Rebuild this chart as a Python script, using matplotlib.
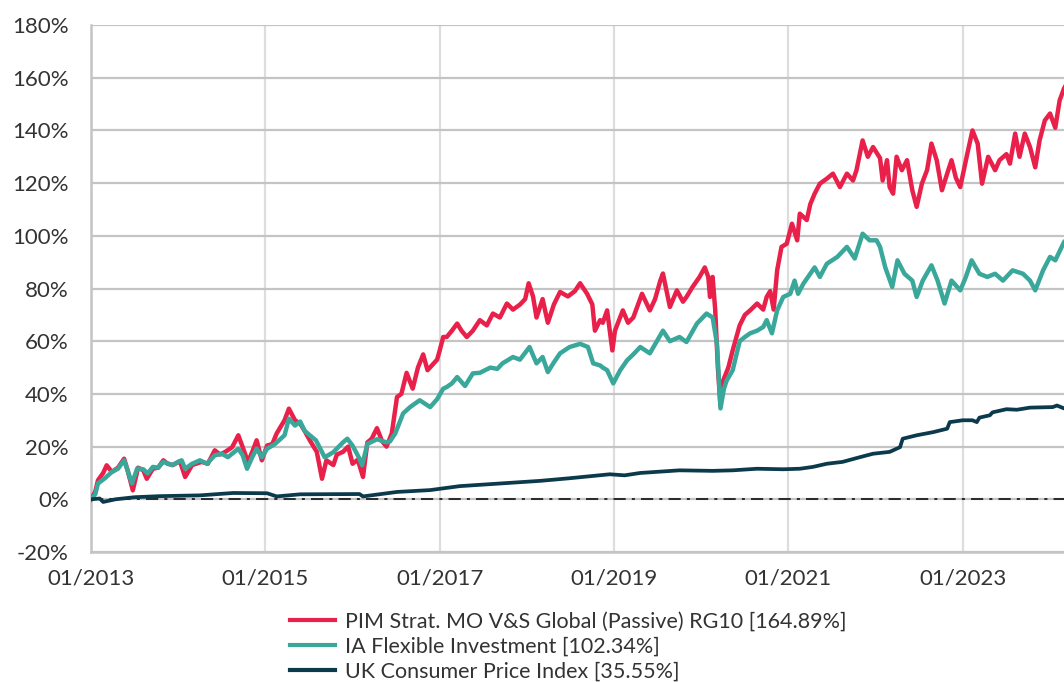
import matplotlib
matplotlib.use("Agg")
import matplotlib.pyplot as plt

# cumulative performance, % (x = decimal year)
pim_t = [2013.00, 2013.05, 2013.08, 2013.14, 2013.18, 2013.24, 2013.31, 2013.38, 2013.42, 2013.48,
         2013.54, 2013.60, 2013.64, 2013.71, 2013.77, 2013.83, 2013.88, 2013.94, 2014.02, 2014.08,
         2014.16, 2014.27, 2014.34, 2014.42, 2014.48, 2014.54, 2014.62, 2014.69, 2014.74, 2014.80,
         2014.85, 2014.90, 2014.96, 2015.02, 2015.08, 2015.13, 2015.22, 2015.27, 2015.34, 2015.40,
         2015.45, 2015.51, 2015.59, 2015.65, 2015.70, 2015.78, 2015.82, 2015.89, 2015.95, 2016.00,
         2016.06, 2016.12, 2016.17, 2016.22, 2016.28, 2016.34, 2016.39, 2016.45, 2016.51, 2016.56,
         2016.62, 2016.69, 2016.75, 2016.81, 2016.86, 2016.97, 2017.00, 2017.04, 2017.08, 2017.14,
         2017.20, 2017.25, 2017.31, 2017.38, 2017.46, 2017.54, 2017.61, 2017.69, 2017.77, 2017.84,
         2017.92, 2017.98, 2018.02, 2018.07, 2018.11, 2018.18, 2018.24, 2018.31, 2018.38, 2018.47,
         2018.55, 2018.61, 2018.69, 2018.75, 2018.78, 2018.84, 2018.87, 2018.92, 2018.98, 2019.01,
         2019.10, 2019.16, 2019.22, 2019.32, 2019.41, 2019.47, 2019.53, 2019.56, 2019.64, 2019.72,
         2019.79, 2019.83, 2019.90, 2019.98, 2020.04, 2020.08, 2020.10, 2020.13, 2020.16, 2020.19,
         2020.22, 2020.25, 2020.31, 2020.36, 2020.44, 2020.50, 2020.56, 2020.64, 2020.71, 2020.75,
         2020.79, 2020.83, 2020.87, 2020.92, 2020.98, 2021.04, 2021.10, 2021.13, 2021.21, 2021.25,
         2021.30, 2021.36, 2021.44, 2021.51, 2021.59, 2021.67, 2021.74, 2021.78, 2021.85, 2021.91,
         2021.97, 2022.05, 2022.08, 2022.13, 2022.16, 2022.20, 2022.24, 2022.30, 2022.36, 2022.42,
         2022.47, 2022.53, 2022.59, 2022.64, 2022.70, 2022.76, 2022.82, 2022.87, 2022.92, 2022.97,
         2023.05, 2023.11, 2023.17, 2023.22, 2023.29, 2023.37, 2023.42, 2023.50, 2023.54, 2023.60,
         2023.65, 2023.71, 2023.77, 2023.83, 2023.88, 2023.94, 2024.00, 2024.06, 2024.11, 2024.16,
         2024.23]
pim = [0, 3, 7.2, 10, 12.9, 10.4, 12, 15.4, 11, 3.4,
       12, 11, 7.8, 11.6, 12, 14.8, 13.5, 13, 14.5, 8.5,
       13, 14.2, 13.5, 18.6, 17, 18, 19.8, 24.3, 19.8, 14.2,
       18, 22.4, 14.8, 20.4, 21, 25, 30, 34.4, 30, 28.7,
       26, 22.4, 18, 7.8, 14.8, 13, 17, 18, 20, 13.5,
       15, 8.5, 21.6, 23, 27, 22, 20, 25, 38.8, 40,
       48, 42, 50, 55, 49, 53, 56.5, 61.6, 61.6, 64,
       66.7, 64, 61.6, 64, 68, 66, 70.5, 69, 74.3, 72,
       73.9, 76, 82, 77, 69, 76, 67, 74, 78.7, 77,
       79, 82, 78, 74, 64, 68, 67, 71.7, 56.5, 64,
       71.7, 67, 69, 78, 71.7, 76, 83, 85.7, 73, 79.3,
       75, 76.8, 80.6, 84.4, 88, 84.4, 76.8, 84.4, 71.7, 50,
       35.5, 45, 50, 56.5, 66, 70, 71.7, 74.3, 72, 76.8,
       79, 72, 86.9, 95.8, 97, 104.6, 98.3, 108.4, 106, 112,
       116, 119.8, 121.7, 123.6, 118.5, 123.6, 121, 124.9, 136.2, 130,
       133.7, 129.5, 121, 128.7, 118.5, 116, 130, 124.9, 128.7, 117.3,
       111, 119.8, 125, 135, 128.7, 117.3, 123.6, 128.7, 122, 118.5,
       131, 140, 135, 119.8, 130, 124.9, 128.7, 131, 127.4, 138.8,
       130, 138.8, 133.7, 126, 136.2, 143.8, 146.4, 141, 151.4, 155.9,
       160]

flex_t = [2013.00, 2013.05, 2013.08, 2013.16, 2013.24, 2013.31, 2013.38, 2013.42, 2013.47, 2013.53,
          2013.60, 2013.65, 2013.71, 2013.77, 2013.83, 2013.93, 2014.04, 2014.08, 2014.16, 2014.25,
          2014.33, 2014.42, 2014.50, 2014.57, 2014.69, 2014.74, 2014.79, 2014.85, 2014.90, 2014.96,
          2015.02, 2015.11, 2015.22, 2015.27, 2015.34, 2015.40, 2015.45, 2015.51, 2015.58, 2015.63,
          2015.68, 2015.72, 2015.78, 2015.89, 2015.94, 2016.00, 2016.08, 2016.11, 2016.17, 2016.28,
          2016.39, 2016.43, 2016.49, 2016.58, 2016.66, 2016.77, 2016.89, 2016.97, 2017.04, 2017.08,
          2017.14, 2017.20, 2017.29, 2017.38, 2017.46, 2017.58, 2017.66, 2017.72, 2017.84, 2017.92,
          2018.03, 2018.11, 2018.18, 2018.24, 2018.31, 2018.38, 2018.49, 2018.61, 2018.70, 2018.76,
          2018.84, 2018.87, 2018.92, 2018.99, 2019.07, 2019.15, 2019.22, 2019.30, 2019.41, 2019.49,
          2019.56, 2019.64, 2019.75, 2019.83, 2019.95, 2020.06, 2020.13, 2020.18, 2020.22, 2020.26,
          2020.29, 2020.36, 2020.44, 2020.50, 2020.56, 2020.64, 2020.71, 2020.75, 2020.81, 2020.87,
          2020.94, 2021.02, 2021.07, 2021.11, 2021.17, 2021.25, 2021.30, 2021.36, 2021.44, 2021.56,
          2021.67, 2021.76, 2021.85, 2021.93, 2022.01, 2022.05, 2022.11, 2022.19, 2022.25, 2022.33,
          2022.42, 2022.47, 2022.54, 2022.64, 2022.71, 2022.79, 2022.87, 2022.97, 2023.03, 2023.10,
          2023.19, 2023.28, 2023.37, 2023.46, 2023.57, 2023.69, 2023.77, 2023.83, 2023.92, 2024.00,
          2024.06, 2024.16, 2024.23]
flex = [0, 2, 6, 8, 10.4, 11.6, 14.8, 11, 6, 11.7,
        11.4, 9.8, 12.3, 12, 14.2, 13, 14.8, 11.6, 13.5, 14.8,
        13.5, 16.7, 17.3, 16, 19.2, 16.7, 11.6, 16, 19.2, 16,
        19.2, 21, 24.3, 30.6, 28, 29.5, 26, 24.3, 22.4, 19.2,
        16, 16.7, 17.9, 21.6, 23, 20.4, 15.4, 12.9, 21, 22.8,
        21.6, 22, 25, 32.6, 35, 37.6, 35, 38, 42, 42.6,
        44, 46.4, 43, 47.8, 48, 50, 49.5, 51.6, 54, 53,
        57.8, 51.6, 54, 48.3, 52, 55.4, 57.8, 59, 57.8, 51.6,
        50.8, 50, 49, 44, 49, 52.8, 55, 57.8, 55.4, 60,
        64, 60, 61.6, 59.7, 66.7, 70.5, 69, 59, 34.5, 42,
        45, 49, 60, 61.6, 63, 64, 65.4, 68, 63, 71.7,
        76.8, 78, 83, 78, 81.8, 85.6, 88, 84.4, 89.4, 92,
        95.8, 91.4, 100.8, 98.3, 98.3, 95.8, 88, 80.6, 90.7, 85.6,
        83, 76.8, 83, 88.8, 83, 74.3, 83, 79.3, 84, 90.7,
        85.6, 84.4, 85.6, 83, 86.9, 85.6, 83, 79.3, 86.9, 92,
        90.7, 97.6, 100]

cpi_t = [2013.00, 2013.10, 2013.14, 2013.28, 2013.50, 2013.79, 2014.25, 2014.63, 2015.02, 2015.13,
         2015.40, 2016.08, 2016.12, 2016.51, 2016.89, 2017.23, 2017.69, 2018.15, 2018.49, 2018.95,
         2019.12, 2019.30, 2019.75, 2020.13, 2020.36, 2020.64, 2020.94, 2021.13, 2021.28, 2021.44,
         2021.62, 2021.82, 2021.97, 2022.16, 2022.28, 2022.31, 2022.47, 2022.66, 2022.82, 2022.85,
         2023.00, 2023.11, 2023.16, 2023.19, 2023.31, 2023.34, 2023.50, 2023.62, 2023.77, 2024.03,
         2024.08, 2024.16, 2024.23]
cpi = [0, 0.3, -1, 0, 0.8, 1.2, 1.5, 2.4, 2.3, 1.1,
       1.9, 2.0, 1.1, 2.8, 3.5, 5, 6, 7, 8, 9.5,
       9.1, 10, 11, 10.8, 11, 11.6, 11.4, 11.6, 12.3, 13.5,
       14.2, 16, 17.3, 18, 19.8, 23, 24.3, 25.5, 26.8, 29.3,
       30, 30, 29.3, 31, 31.9, 33, 34.2, 34, 34.8, 35,
       35.6, 34.5, 35]

labels = ["PIM Strat. MO V&S Global (Passive) RG10 [164.89%]",
          "IA Flexible Investment [102.34%]",
          "UK Consumer Price Index [35.55%]"]
colors = ["#E8204A", "#3AA79B", "#0A3A4C"]

tick_years = [2013, 2015, 2017, 2019, 2021, 2023]
y_ticks = list(range(-20, 181, 20))

plt.rcParams['font.family'] = ['Lato', 'DejaVu Sans']

fig = plt.figure(figsize=(10.64, 6.82), dpi=100)
ax = fig.add_axes([0.0855, 0.1906, 0.9145, 0.7727])

ax.plot(pim_t, pim, color=colors[0], lw=3.2, label=labels[0], solid_joinstyle='round', zorder=4)
ax.plot(flex_t, flex, color=colors[1], lw=3.2, label=labels[1], solid_joinstyle='round', zorder=5)
ax.plot(cpi_t, cpi, color=colors[2], lw=2.7, label=labels[2], zorder=6)
ax.axhline(0, color='black', lw=1.1, ls=(0, (8, 4, 2, 4)), zorder=3)

ax.set_xlim(2013.0, 2024.16)
ax.set_ylim(-20, 180)
ax.set_yticks(y_ticks)
ax.set_yticklabels([f"{v}%" for v in y_ticks])
ax.set_xticks(tick_years)
ax.set_xticklabels([f"01/{y}" for y in tick_years])

ax.yaxis.grid(True, color='#c4c4c4', lw=1.6)
ax.xaxis.grid(True, color='#dddddd', lw=1.6)
ax.set_axisbelow(True)
for s in ['top', 'right']:
    ax.spines[s].set_visible(False)
for s in ['left', 'bottom']:
    ax.spines[s].set_color('#c4c4c4')
    ax.spines[s].set_linewidth(1.8)
ax.tick_params(axis='both', length=0, labelsize=16, colors='#333333')
ax.tick_params(axis='y', pad=16)
ax.tick_params(axis='x', pad=12)

leg = fig.legend(loc='upper left', bbox_to_anchor=(0.2725, 0.103), frameon=False,
                 fontsize=15.5, handlelength=2.1, handletextpad=0.45, labelspacing=0.22,
                 borderaxespad=0, borderpad=0)
for t in leg.get_texts():
    t.set_color('#333333')
for h in leg.get_lines():
    h.set_linewidth(3)

fig.savefig("out.png", dpi=100)
